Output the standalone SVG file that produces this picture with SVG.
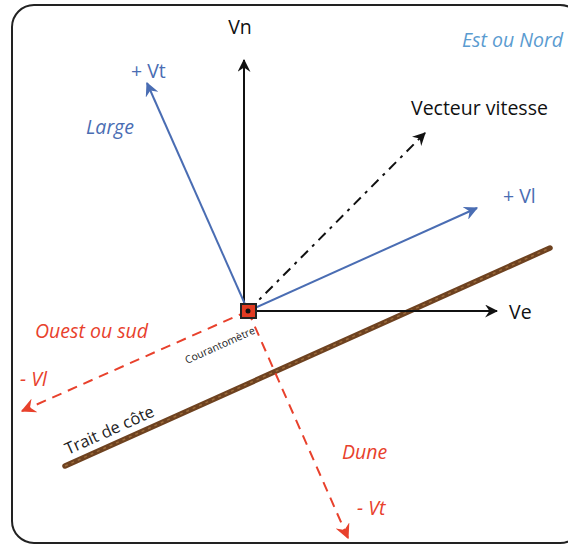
<svg xmlns="http://www.w3.org/2000/svg" width="568" height="545" viewBox="0 0 568 545">
<defs>
<style>
text{font-family:"Open Sans","Liberation Sans",sans-serif}
.blk{stroke:#111;stroke-width:2;fill:none}
.blu{stroke:#4a6db3;stroke-width:2;fill:none}
.red{stroke:#e8412c;stroke-width:2;fill:none;stroke-dasharray:10,7}
.dsh{stroke:#111;stroke-width:2;fill:none;stroke-dasharray:10,6,3,6}
.tb{fill:#4a6db3;font-size:19.5px}
.tr{fill:#e8412c;font-size:19.5px;font-style:italic}
.tk{fill:#111;font-size:19.5px}
</style>
<marker id="ak" viewBox="0 0 12 12" refX="11" refY="6" markerWidth="13" markerHeight="13" markerUnits="userSpaceOnUse" orient="auto"><path d="M0,0 L12,6 L0,12 L4,6 Z" fill="#111"/></marker>
<marker id="ab" viewBox="0 0 12 12" refX="11" refY="6" markerWidth="14" markerHeight="14" markerUnits="userSpaceOnUse" orient="auto"><path d="M0,0 L12,6 L0,12 L4,6 Z" fill="#4a6db3"/></marker>
<marker id="ar" viewBox="0 0 12 12" refX="11" refY="6" markerWidth="15" markerHeight="15" markerUnits="userSpaceOnUse" orient="auto"><path d="M0,0 L12,6 L0,12 L4,6 Z" fill="#e8412c"/></marker>
</defs>
<rect x="0" y="0" width="568" height="545" fill="#fff"/>
<rect id="frame" x="12" y="5" width="570" height="538" rx="22" fill="#fff" stroke="#222" stroke-width="2"/>
<g id="coast">
<line x1="65" y1="466" x2="550" y2="248" stroke="#6e4220" stroke-width="5.5" stroke-linecap="round"/>
<line x1="65" y1="466" x2="550" y2="248" stroke="#9a6a3a" stroke-width="1.5" stroke-dasharray="3,4"/>
<text x="0" y="0" font-size="16.5" fill="#222" transform="translate(68,455) rotate(-24.2)">Trait de côte</text>
</g>
<g id="connectors">
<line class="blk" x1="244" y1="311" x2="244" y2="60" marker-end="url(#ak)"/>
<line class="blk" x1="248" y1="311" x2="497" y2="311" marker-end="url(#ak)"/>
<line class="blu" x1="248" y1="311" x2="147" y2="83" marker-end="url(#ab)"/>
<line class="blu" x1="248" y1="311" x2="477" y2="208" marker-end="url(#ab)"/>
<line class="dsh" x1="248" y1="311" x2="425" y2="133" marker-end="url(#ak)"/>
<line class="red" x1="248" y1="311" x2="22" y2="411" marker-end="url(#ar)"/>
<line class="red" x1="248" y1="311" x2="348" y2="538" marker-end="url(#ar)"/>
</g>
<g id="origin">
<rect x="241" y="304" width="15" height="14" fill="#e23b22" stroke="#222" stroke-width="2"/>
<circle cx="248" cy="311" r="2.5" fill="#111"/>
<text x="0" y="0" font-size="10.5" fill="#222" transform="translate(187,364) rotate(-24.2)">Courantomètre</text>
</g>
<g id="labels">
<text x="240" y="34" class="tk" text-anchor="middle">Vn</text>
<text x="509" y="319" class="tk">Ve</text>
<text x="411" y="115" class="tk">Vecteur vitesse</text>
<text x="131" y="78" class="tb">+ Vt</text>
<text x="86" y="134" class="tb" font-style="italic">Large</text>
<text x="503" y="203" class="tb">+ Vl</text>
<text x="462" y="47" font-size="19.5" fill="#5a9bd0" font-style="italic">Est ou Nord</text>
<text x="35" y="338" class="tr">Ouest ou sud</text>
<text x="20" y="386" class="tr">- Vl</text>
<text x="342" y="459" class="tr">Dune</text>
<text x="357" y="515" class="tr">- Vt</text>
</g>
</svg>
